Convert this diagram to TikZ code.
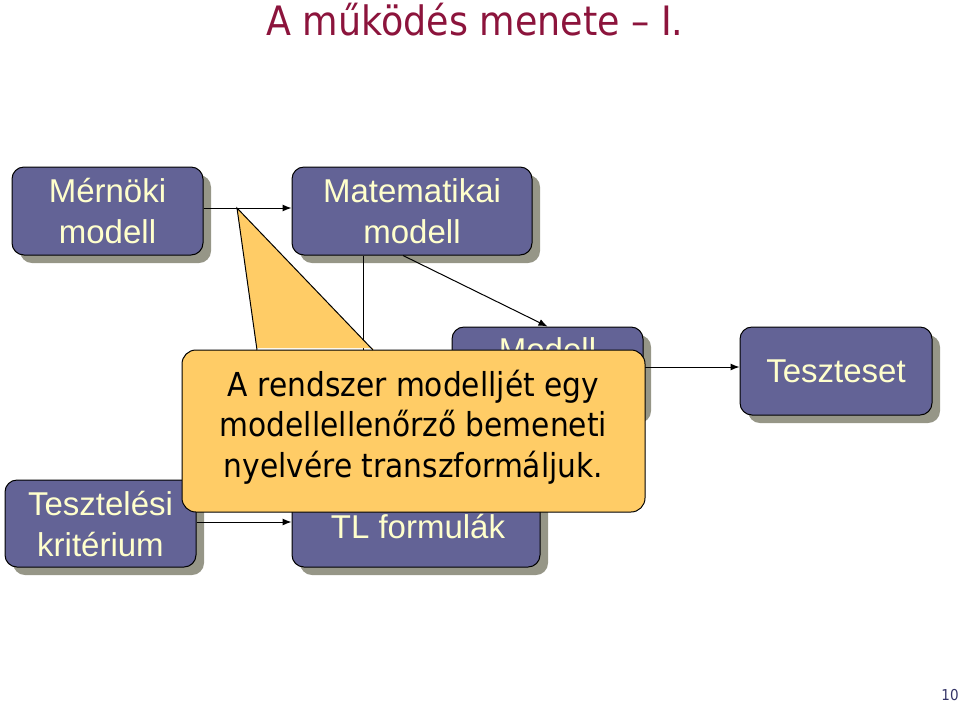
\documentclass[tikz,border=0pt]{standalone}
\usepackage{fontspec}
\setmainfont{Liberation Sans}
\newfontfamily\tfont{DejaVu Sans Condensed}
\usetikzlibrary{arrows.meta,shadows}
\definecolor{boxfill}{RGB}{99,99,150}
\definecolor{boxtext}{RGB}{255,255,204}
\definecolor{shadowgrey}{RGB}{150,150,135}
\definecolor{callfill}{RGB}{255,204,102}
\definecolor{titlered}{RGB}{140,20,60}
\definecolor{pagenum}{RGB}{51,51,102}
\begin{document}
\begin{tikzpicture}[x=1pt,y=-1pt,
  mbox/.style={draw=black,line width=1pt,fill=boxfill,rounded corners=12pt,
    text=boxtext,font=\fontsize{33}{41}\selectfont,align=center,inner sep=0pt,
    drop shadow={shadow xshift=8pt,shadow yshift=-8pt,fill=shadowgrey,opacity=1}},
  conn/.style={draw=black,line width=1pt},
  arr/.style={conn,-{Latex[length=9pt,width=7pt]}},
  callbox/.style={draw=black,line width=1pt,fill=callfill,rounded corners=14pt,
    inner sep=0pt,minimum width=463pt,minimum height=162pt},
  calltext/.style={font=\tfont\fontsize{33}{40.5}\selectfont,align=center,text=black,inner sep=0pt}
]
\useasboundingbox (0,0) rectangle (960,705);
% title
\node[anchor=base,text=titlered,font=\tfont\fontsize{40.5}{48}\selectfont,inner sep=0pt] (title) at (475,35) {A működés menete – I.};
% boxes
\node[mbox,minimum width=191pt,minimum height=88pt] (mern) at (107.5,211) {Mérnöki\\modell};
\node[mbox,minimum width=240pt,minimum height=88pt] (matek) at (412,211) {Matematikai\\modell};
\node[mbox,minimum width=191pt,minimum height=88pt] (modell) at (547.5,371) {};
\node[text=boxtext,font=\fontsize{33}{41}\selectfont,inner sep=0pt] (modelltxt) at (547.5,350) {Modell};
\node[mbox,minimum width=192pt,minimum height=88pt] (teszt) at (836,371) {Teszteset};
\node[mbox,minimum width=191pt,minimum height=87pt] (krit) at (100.5,523.5) {Tesztelési\\kritérium};
\node[mbox,minimum width=248pt,minimum height=89pt] (tl) at (416,522.5) {};
\node[text=boxtext,font=\fontsize{33}{41}\selectfont,inner sep=0pt] (tltxt) at (418,526) {TL formulák};
% connectors
\draw[arr] (mern.east |- 0,208) -- (matek.west |- 0,208);
\draw[arr] ([xshift=-9pt]matek.south) -- (modell.north);
\draw[arr] (matek.south -| 363,0) -- (tl.north -| 363,0);
\draw[arr] (modell.east |- 0,367) -- (teszt.west |- 0,367);
\draw[arr] (krit.east |- 0,522) -- (tl.west |- 0,522);
% callout
\node[callbox] (call) at (413.5,431) {};
\coordinate (tip) at (237,208);
\coordinate (bl) at (257,350);
\coordinate (br) at (373,350);
\fill[callfill] (bl) -- (tip) -- (br) -- ([yshift=2pt]br) -- ([yshift=2pt]bl) -- cycle;
\draw[conn,line join=miter] (bl) -- (tip) -- (br);
\node[calltext] (calltxt) at (413.5,427) {A rendszer modelljét egy\\modellellenőrző bemeneti\\nyelvére transzformáljuk.};
% page number
\node[text=pagenum,font=\tfont\fontsize{15}{17}\selectfont,inner sep=0pt] (page) at (950,695) {10};
\end{tikzpicture}
\end{document}
